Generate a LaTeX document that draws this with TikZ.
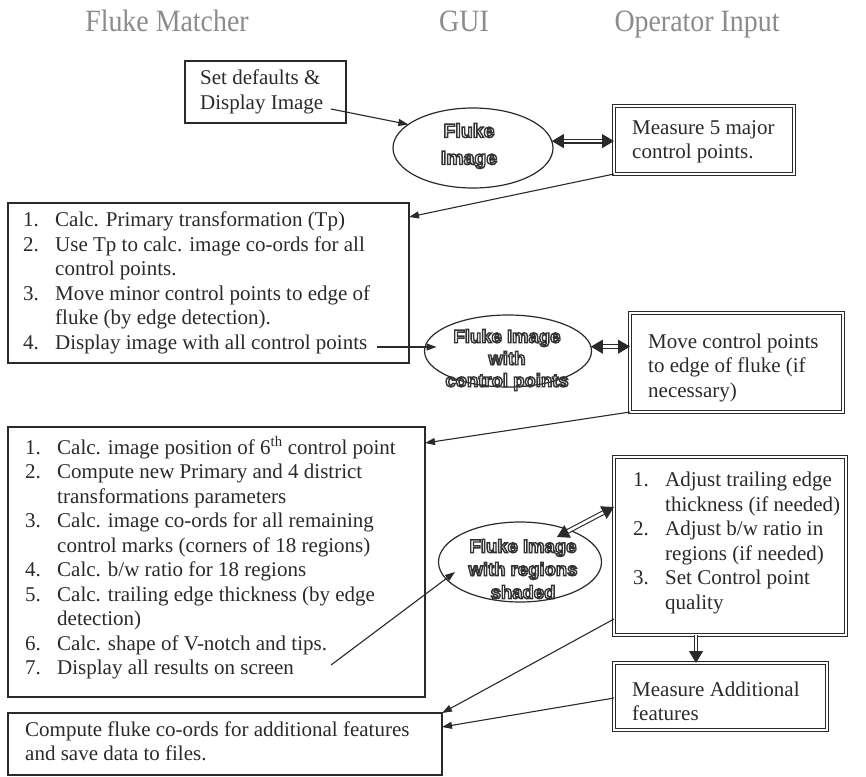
\documentclass[tikz,border=0pt]{standalone}
\usepackage{graphicx}
\usepackage{fontspec}
\setmainfont{Liberation Serif}
\newfontfamily\olfont{Liberation Sans}
\usetikzlibrary{arrows.meta,shapes.geometric}
\definecolor{ink}{HTML}{2A2A2A}
\definecolor{hdr}{HTML}{8C8C8C}
\definecolor{olc}{HTML}{3A3A3A}
\newcommand\oltxt[1]{\special{pdf:literal direct q 1 Tr 1.4 w 0.2 G}#1\special{pdf:literal direct Q}}
\newcommand\itm[2]{\makebox[32pt][l]{#1}#2}
\newcommand\cnt[1]{\hspace*{32pt}#1}
\newcommand\hdrtext[1]{\scalebox{0.9}[1]{#1}}
\begin{document}
\begin{tikzpicture}[x=1pt,y=-1pt,
  box/.style={draw=ink, line width=1.4pt, inner sep=0pt, outer sep=0pt},
  dbox/.style={draw=ink, line width=1pt, double=white, double distance=2.5pt, inner sep=0pt, outer sep=0pt},
  txt/.style={text=ink, font=\fontsize{21}{24.5}\selectfont, align=left, inner sep=0pt, anchor=west},
  hdrtxt/.style={text=hdr, font=\fontsize{31}{31}\selectfont, inner sep=0pt, anchor=base},
  ell/.style={ellipse, draw=ink, line width=1.2pt, inner sep=0pt, outer sep=0pt},
  oltx/.style={text=olc, align=center, inner sep=0pt},
  arr/.style={draw=ink, line width=1.1pt, -{Triangle[length=10pt,width=7pt]}},
  darr/.style={draw=ink, line width=1.1pt, double=white, double distance=2.6pt, {Triangle[length=12pt,width=14pt]}-{Triangle[length=12pt,width=14pt]}},
  darrone/.style={draw=ink, line width=1.1pt, double=white, double distance=2.6pt, -{Triangle[length=12pt,width=14pt]}}
]
\useasboundingbox[fill=white] (0,0) rectangle (866,776);

% headers
\node[hdrtxt] (h1) at (167,32) {\hdrtext{Fluke Matcher}};
\node[hdrtxt] (h2) at (464,32) {\hdrtext{GUI}};
\node[hdrtxt] (h3) at (697,32) {\hdrtext{Operator Input}};

% box A
\node[box, minimum width=161, minimum height=62] (a) at (265.5,92) {};
\node[txt] (at) at ([xshift=15pt]a.west) {Set defaults \&\\Display Image};

% ellipse 1
\node[ell, minimum width=160, minimum height=80] (e1) at (473,148) {};
\node[oltx, font=\olfont\bfseries\fontsize{19.5}{27}\selectfont] (e1t) at (469,146) {\oltxt{Fluke}\\\oltxt{Image}};

% box B
\node[dbox, minimum width=180, minimum height=68] (b) at (704,140) {};
\node[txt] (bt) at ([xshift=18pt,yshift=-2pt]b.west) {Measure 5 major\\control points.};

% box C
\node[box, minimum width=401, minimum height=160] (c) at (208.5,283) {};
\node[txt] (ct) at ([xshift=15pt]c.west) {\itm{1.}{Calc. Primary transformation (Tp)}\\
\itm{2.}{Use Tp to calc. image co-ords for all}\\
\cnt{control points.}\\
\itm{3.}{Move minor control points to edge of}\\
\cnt{fluke (by edge detection).}\\
\itm{4.}{Display image with all control points}};

% ellipse 2
\node[ell, minimum width=167, minimum height=72] (e2) at (508,351) {};
\node[oltx, font=\olfont\bfseries\fontsize{18.5}{22}\selectfont] (e2t) at (507,360) {\oltxt{Fluke Image}\\\oltxt{with}\\\oltxt{control points}};

% box D
\node[dbox, minimum width=213, minimum height=99] (d) at (736.5,362.5) {};
\node[txt] (dt) at ([xshift=18pt,yshift=-5pt]d.west) {Move control points\\to edge of fluke (if\\necessary)};

% box E
\node[box, minimum width=417, minimum height=270] (boxe) at (216.5,562) {};
\node[txt] (et) at ([xshift=17pt,yshift=4pt]boxe.west) {\itm{1.}{Calc. image position of 6\textsuperscript{th} control point}\\
\itm{2.}{Compute new Primary and 4 district}\\
\cnt{transformations parameters}\\
\itm{3.}{Calc. image co-ords for all remaining}\\
\cnt{control marks (corners of 18 regions)}\\
\itm{4.}{Calc. b/w ratio for 18 regions}\\
\itm{5.}{Calc. trailing edge thickness (by edge}\\
\cnt{detection)}\\
\itm{6.}{Calc. shape of V-notch and tips.}\\
\itm{7.}{Display all results on screen}};

% ellipse 3
\node[ell, minimum width=163, minimum height=80] (e3) at (520,562) {};
\node[oltx, font=\olfont\bfseries\fontsize{18.5}{23}\selectfont] (e3t) at (523,569) {\oltxt{Fluke Image}\\\oltxt{with regions}\\\oltxt{shaded}};

% box G
\node[dbox, minimum width=232, minimum height=178] (g) at (730,546) {};
\node[txt] (gt) at ([xshift=19pt,yshift=3pt]g.west) {\itm{1.}{Adjust trailing edge}\\
\cnt{thickness (if needed)}\\
\itm{2.}{Adjust b/w ratio in}\\
\cnt{regions (if needed)}\\
\itm{3.}{Set Control point}\\
\cnt{quality}};

% box H
\node[dbox, minimum width=213, minimum height=67] (h) at (720.5,696.5) {};
\node[txt] (ht) at ([xshift=18pt,yshift=-5pt]h.west) {Measure Additional\\features};

% box F
\node[box, minimum width=434, minimum height=62] (f) at (225,744) {};
\node[txt] (ft) at ([xshift=17pt,yshift=3pt]f.west) {Compute fluke co-ords for additional features\\and save data to files.};

% connectors
\coordinate (a1) at (331,109);
\draw[arr] (a1) -- (e1.160);
\draw[darr] (e1.5) -- (e1.5 -| b.west);
\draw[arr] (b.south west) -- ([yshift=-14pt]c.north east);
\coordinate (c4) at (377,347);
\coordinate (e2in) at ([xshift=12pt]e2.west);
\draw[arr] (c4) -- (e2in |- c4);
\draw[darr] (e2.3) -- (e2.3 -| d.west);
\draw[arr] (d.south west) -- ([yshift=-16pt]boxe.north east);
\coordinate (e7) at (331,665);
\coordinate (e3in) at ([xshift=-65pt,yshift=-10pt]e3.center);
\draw[arr] (e7) -- (e3in);
\coordinate (e3top) at ([xshift=37pt,yshift=25pt]e3.center);
\draw[darr] (e3top) -- ([yshift=-50pt]g.north west);
\draw[arr] ([yshift=16pt]g.south west) -- (f.north east);
\coordinate (gh) at ([xshift=-34pt]g.south);
\draw[darrone] (gh) -- (gh |- h.north);
\draw[arr] ([yshift=-1.5pt]h.west) -- ([yshift=-14pt]f.north east);
\end{tikzpicture}
\end{document}
